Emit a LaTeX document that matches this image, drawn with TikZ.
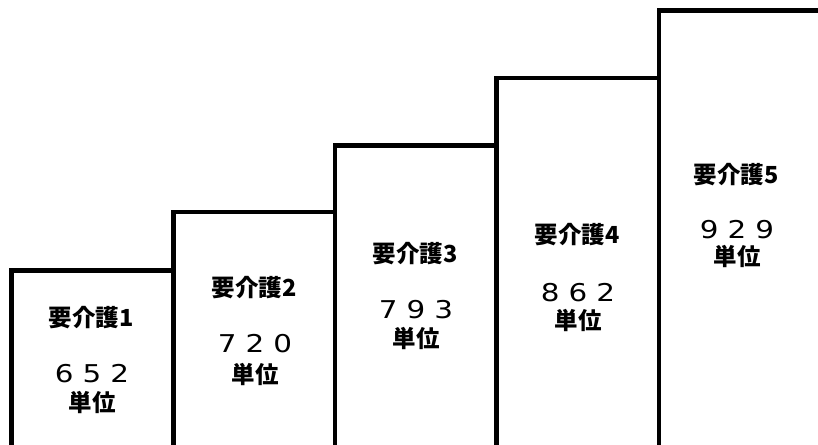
\documentclass[tikz,border=0pt]{standalone}
\usepackage{graphicx}
\usepackage{fontspec}
\setmainfont{Noto Sans CJK JP}
\newfontfamily\numfnt{DejaVu Sans}
\newcommand{\wdig}[1]{\scalebox{1.2}[1]{#1}}
\newcommand{\tripnum}[3]{\wdig{#1}\hspace{9pt}\wdig{#2}\hspace{9pt}\wdig{#3}}
\begin{document}
\begin{tikzpicture}[x=1pt,y=-1pt,
  barline/.style={line width=4.5pt, line join=miter},
  lab/.style={font=\bfseries\fontsize{23.5}{23.5}\selectfont, inner sep=0pt},
  numtxt/.style={font=\numfnt\fontsize{24.5}{24.5}\selectfont, inner sep=0pt},
  unit/.style={font=\bfseries\fontsize{23.5}{23.5}\selectfont, inner sep=0pt}]
\useasboundingbox (0,0) rectangle (818,444);
\clip (0,0) rectangle (818,444);
\fill[white] (0,0) rectangle (818,444);
% bars
\draw[barline] (11.5,460) -- (11.5,270.5) -- (173.5,270.5) -- (173.5,460);
\draw[barline] (173.5,460) -- (173.5,212) -- (335,212) -- (335,460);
\draw[barline] (335,460) -- (335,145.5) -- (496.5,145.5) -- (496.5,460);
\draw[barline] (496.5,460) -- (496.5,78) -- (659,78) -- (659,460);
\draw[barline] (659,460) -- (659,10.5) -- (830,10.5);
% texts
\node[lab] (l1) at (91,318) {要介護1};
\node[numtxt] (n1) at (92,374) {\tripnum652};
\node[unit] (u1) at (92,402) {単位};
\node[lab] (l2) at (254,288) {要介護2};
\node[numtxt] (n2) at (255,344) {\tripnum720};
\node[unit] (u2) at (255,374) {単位};
\node[lab] (l3) at (415,254) {要介護3};
\node[numtxt] (n3) at (416,310) {\tripnum793};
\node[unit] (u3) at (416,338) {単位};
\node[lab] (l4) at (577,235) {要介護4};
\node[numtxt] (n4) at (578,293) {\tripnum862};
\node[unit] (u4) at (578,320) {単位};
\node[lab] (l5) at (736,175) {要介護5};
\node[numtxt] (n5) at (737,230) {\tripnum929};
\node[unit] (u5) at (737,256) {単位};
\end{tikzpicture}
\end{document}
